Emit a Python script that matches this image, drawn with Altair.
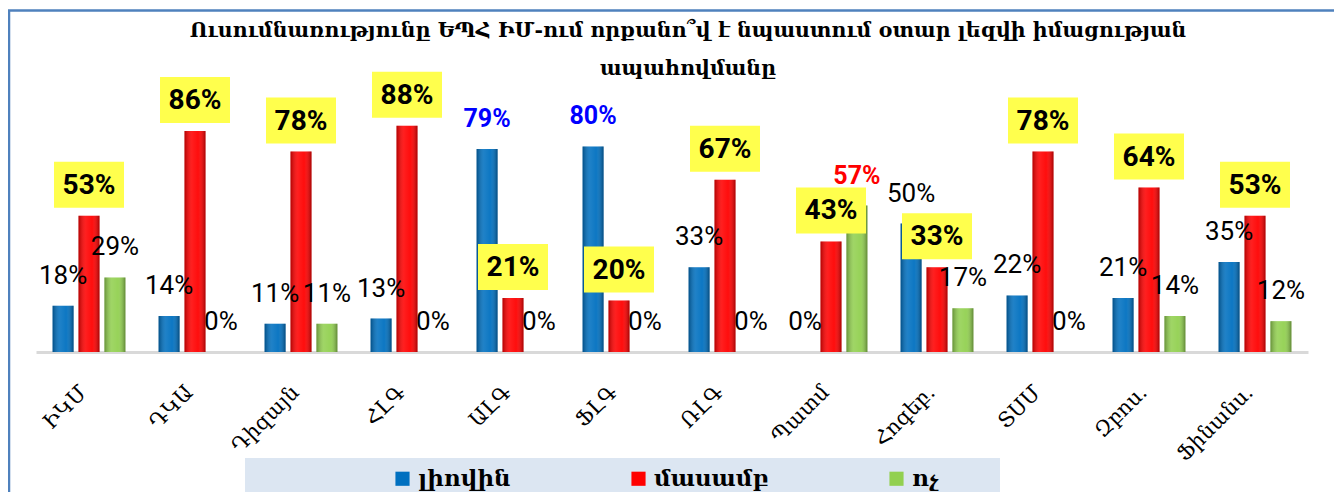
import altair as alt
import pandas as pd

# ---- data ----
CATEGORIES = ["ԻԿՄ", "ԴԿԱ", "Դիզայն", "ՀԼԳ", "ԱԼԳ", "ՖԼԳ", "ՌԼԳ", "Պատմ", "Հոգեբ.", "ՏՍՄ", "Զբոս.", "Ֆինանս."]
SERIES = ["լիովին", "մասամբ", "ոչ"]
LIOVIN = [18, 14, 11, 13, 79, 80, 33, 0, 50, 22, 21, 35]
MASAMB = [53, 86, 78, 88, 21, 20, 67, 43, 33, 78, 64, 53]
VOCH = [29, 0, 11, 0, 0, 0, 0, 57, 17, 0, 14, 12]
TITLE_LINES = ["Ուսումնառությունը ԵՊՀ ԻՄ-ում որքանո՞վ է նպաստում օտար լեզվի իմացության",
               "ապահովմանը"]
COLORS = ["#0070C0", "#FF0000", "#92D050"]

rows = []
for s, vals in zip(SERIES, [LIOVIN, MASAMB, VOCH]):
    for c, v in zip(CATEGORIES, vals):
        rows.append({"category": c, "series": s, "value": v})
df = pd.DataFrame(rows)

SERIF = "DejaVu Serif"
NUMF = "Roboto"

x_enc = alt.X("category:N", sort=CATEGORIES,
              scale=alt.Scale(paddingInner=0.264, paddingOuter=0.132),
              axis=alt.Axis(title=None, labelAngle=-45, labelAlign="right", labelBaseline="middle",
                            labelFont=SERIF, labelFontSize=21, labelColor="#000000",
                            labelPadding=37, labelOffset=-5, ticks=False, grid=False,
                            domainColor="#D9D9D9", domainWidth=3))
xo_enc = alt.XOffset("series:N", scale=alt.Scale(domain=SERIES, paddingInner=0.19, paddingOuter=0.1))
y_enc = alt.Y("value:Q", scale=alt.Scale(domain=[0, 100]), axis=None)

base = alt.Chart(df).encode(x=x_enc, xOffset=xo_enc, y=y_enc)

frame = alt.Chart(alt.Data(values=[{}])).mark_rect(
    fill="transparent", stroke="#4F81BD", strokeWidth=2.5
).encode(x=alt.value(-27), x2=alt.value(1301), y=alt.value(-84.5), y2=alt.value(460))

legend_bg = alt.Chart(alt.Data(values=[{}])).mark_rect(fill="#DCE6F2").encode(
    x=alt.value(209), x2=alt.value(964), y=alt.value(363), y2=alt.value(420))

bars = base.mark_bar().encode(
    color=alt.Color("series:N", scale=alt.Scale(domain=SERIES, range=COLORS),
                    legend=alt.Legend(orient="none", legendX=355, legendY=372, direction="horizontal",
                                      title=None, symbolType="square", symbolSize=200,
                                      symbolStrokeWidth=0, labelFont=SERIF, labelFontSize=23,
                                      labelFontWeight="bold", labelColor="#000000", labelOffset=4,
                                      columnPadding=116, padding=0, labelLimit=0))
)

shade = base.mark_bar(fill=alt.Gradient(
    gradient="linear", x1=0, x2=1, y1=0, y2=0,
    stops=[alt.GradientStop(offset=0, color="rgba(0,0,0,0.30)"),
           alt.GradientStop(offset=0.35, color="rgba(255,255,255,0.12)"),
           alt.GradientStop(offset=0.65, color="rgba(255,255,255,0.05)"),
           alt.GradientStop(offset=1, color="rgba(0,0,0,0.35)")]))

labelled = base.transform_calculate(label="datum.value + '%'")

boxes = labelled.transform_filter(alt.datum.series == SERIES[1]).mark_point(
    shape="M-1,-0.657L1,-0.657L1,0.657L-1,0.657Z", size=4900, filled=True,
    fill="#FFFF4D", opacity=1, strokeWidth=0, yOffset=-31)

box_text = labelled.transform_filter(alt.datum.series == SERIES[1]).mark_text(
    font=NUMF, fontSize=28, fontWeight="bold", color="#000000", dy=-30, baseline="middle"
).encode(text="label:N")

emph = (alt.datum.series != SERIES[1]) & (alt.datum.value > 50)
plain_text = labelled.transform_filter(
    (alt.datum.series != SERIES[1]) & (alt.datum.value <= 50)
).mark_text(font=NUMF, fontSize=26, color="#000000", dy=-30, baseline="middle").encode(text="label:N")

emph_text = labelled.transform_filter(emph).mark_text(
    font=NUMF, fontSize=25, fontWeight="bold", dy=-30, baseline="middle"
).encode(text="label:N",
         color=alt.condition(alt.datum.series == SERIES[0], alt.value("#0000FF"), alt.value("#FF0000")))

title = alt.Chart(alt.Data(values=[{}])).mark_text(
    text=TITLE_LINES, font=SERIF, fontSize=20.5, fontWeight="bold", lineHeight=38,
    align="center", baseline="middle", color="#000000"
).encode(x=alt.value(652), y=alt.value(-64))

chart = alt.layer(frame, legend_bg, bars, shade, boxes, box_text, plain_text, emph_text, title).properties(
    width=1272, height=257,
    autosize=alt.AutoSizeParams(type="none"),
    padding={"left": 28, "top": 87, "right": 26, "bottom": 140},
    background="#FFFFFF",
).configure_view(stroke=None)

chart.save("out.html", embed_options={"renderer": "svg", "actions": False})
